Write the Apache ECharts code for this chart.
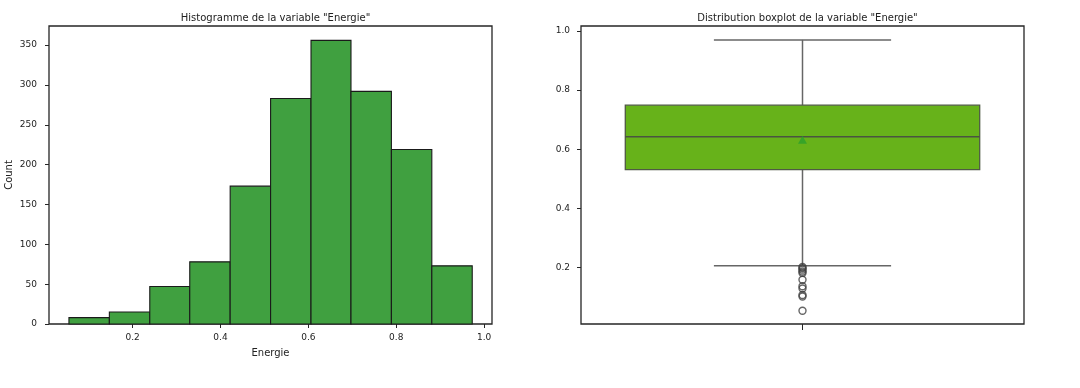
<!DOCTYPE html>
<html>
<head>
<meta charset="utf-8">
<script src="https://cdn.jsdelivr.net/npm/echarts@6/dist/echarts.min.js"></script>
<style>
html,body{margin:0;padding:0;background:#fff;}
#chart{width:1080px;height:388px;}
</style>
</head>
<body>
<div id="chart"></div>
<script>
// ---- Data ----
const histBinEdges = [0.055, 0.147, 0.239, 0.330, 0.422, 0.514, 0.606, 0.697, 0.789, 0.881, 0.973];
const histCounts = [8, 15, 47, 78, 173, 283, 356, 292, 219, 73];
const histXTicks = [0.2, 0.4, 0.6, 0.8, 1.0];
const histYTicks = [0, 50, 100, 150, 200, 250, 300, 350];

// boxplot: [lower whisker, Q1, median, Q3, upper whisker]
const boxValues = [0.205, 0.531, 0.642, 0.749, 0.970];
const meanValue = [0.632];
const outlierValues = [0.201, 0.197, 0.192, 0.186, 0.181, 0.158, 0.136, 0.128, 0.106, 0.101, 0.053];
const boxYTicks = [0.2, 0.4, 0.6, 0.8, 1.0];

const histData = histCounts.map((c, i) => [histBinEdges[i], histBinEdges[i + 1], c]);

const FONT = 'DejaVu Sans';
const TXT = '#222222';
const labelStyle = {color: TXT, fontFamily: FONT, fontSize: 9};
const noLine = {show: false, onZero: false};

const chart = echarts.init(document.getElementById('chart'), null, {renderer: 'canvas'});

const option = {
  animation: false,
  backgroundColor: '#ffffff',
  title: [
    {text: 'Histogramme de la variable "Energie"', left: 270.5, top: 8, textAlign: 'center',
     textStyle: {fontFamily: FONT, fontSize: 10, fontWeight: 'normal', color: TXT}},
    {text: 'Distribution boxplot de la variable "Energie"', left: 802.5, top: 8, textAlign: 'center',
     textStyle: {fontFamily: FONT, fontSize: 10, fontWeight: 'normal', color: TXT}}
  ],
  grid: [
    {left: 49, top: 26, width: 443, height: 298, show: true, borderColor: '#262626', borderWidth: 1.3, backgroundColor: 'transparent'},
    {left: 581, top: 26, width: 443, height: 298, show: true, borderColor: '#262626', borderWidth: 1.3, backgroundColor: 'transparent'}
  ],
  xAxis: [
    {type: 'value', gridIndex: 0, min: 0.0096, max: 1.018,
     name: 'Energie', nameLocation: 'middle', nameGap: 24,
     nameTextStyle: {fontFamily: FONT, fontSize: 10, color: TXT},
     axisLine: noLine, splitLine: {show: false},
     axisTick: {show: true, length: 4, customValues: histXTicks, lineStyle: {color: '#262626', width: 1}},
     axisLabel: {show: true, margin: 9, customValues: histXTicks, formatter: v => v.toFixed(1), ...labelStyle}},
    {type: 'value', gridIndex: 1, min: -0.5, max: 0.5,
     axisLine: noLine, splitLine: {show: false},
     axisTick: {show: true, length: 6, customValues: [0], lineStyle: {color: '#262626', width: 1}},
     axisLabel: {show: false}}
  ],
  yAxis: [
    {type: 'value', gridIndex: 0, min: 0, max: 374,
     name: 'Count', nameLocation: 'middle', nameGap: 35, nameRotate: 90,
     nameTextStyle: {fontFamily: FONT, fontSize: 10, color: TXT},
     axisLine: noLine, splitLine: {show: false},
     axisTick: {show: true, length: 4, customValues: histYTicks, lineStyle: {color: '#262626', width: 1}},
     axisLabel: {show: true, margin: 12, customValues: histYTicks, ...labelStyle}},
    {type: 'value', gridIndex: 1, min: 0.008, max: 1.017,
     axisLine: noLine, splitLine: {show: false},
     axisTick: {show: true, length: 4, customValues: boxYTicks, lineStyle: {color: '#262626', width: 1}},
     axisLabel: {show: true, margin: 11, customValues: boxYTicks, formatter: v => v.toFixed(1), ...labelStyle}}
  ],
  series: [
    {
      type: 'custom', xAxisIndex: 0, yAxisIndex: 0,
      data: histData,
      encode: {x: [0, 1], y: 2},
      renderItem: function (params, api) {
        const p0 = api.coord([api.value(0), 0]);
        const p1 = api.coord([api.value(1), api.value(2)]);
        return {
          type: 'rect',
          shape: {x: p0[0], y: p1[1], width: p1[0] - p0[0], height: p0[1] - p1[1]},
          style: {fill: '#40a040', stroke: '#1a1a1a', lineWidth: 1.1}
        };
      }
    },
    {
      type: 'custom', xAxisIndex: 1, yAxisIndex: 1,
      data: [[0].concat(boxValues)],
      encode: {x: 0, y: [1, 2, 3, 4, 5]},
      renderItem: function (params, api) {
        const x = api.value(0);
        const yLo = api.coord([x, api.value(1)])[1];
        const yQ1 = api.coord([x, api.value(2)])[1];
        const yMed = api.coord([x, api.value(3)])[1];
        const yQ3 = api.coord([x, api.value(4)])[1];
        const yHi = api.coord([x, api.value(5)])[1];
        const cx = api.coord([x, 0])[0];
        const half = api.size([0.8, 0])[0] / 2;
        const cap = api.size([0.4, 0])[0] / 2;
        const wStyle = {stroke: '#666666', lineWidth: 1.5};
        return {
          type: 'group',
          children: [
            {type: 'line', shape: {x1: cx, y1: yQ3, x2: cx, y2: yHi}, style: wStyle},
            {type: 'line', shape: {x1: cx, y1: yQ1, x2: cx, y2: yLo}, style: wStyle},
            {type: 'line', shape: {x1: cx - cap, y1: yHi, x2: cx + cap, y2: yHi}, style: wStyle},
            {type: 'line', shape: {x1: cx - cap, y1: yLo, x2: cx + cap, y2: yLo}, style: wStyle},
            {type: 'rect', shape: {x: cx - half, y: yQ3, width: 2 * half, height: yQ1 - yQ3},
             style: {fill: '#67b21a', stroke: '#4f5a44', lineWidth: 1.3}},
            {type: 'line', shape: {x1: cx - half, y1: yMed, x2: cx + half, y2: yMed},
             style: {stroke: '#4a5440', lineWidth: 1.4}}
          ]
        };
      }
    },
    {
      type: 'scatter', xAxisIndex: 1, yAxisIndex: 1,
      data: outlierValues.map(v => [0, v]),
      symbol: 'circle', symbolSize: 7,
      itemStyle: {color: 'rgba(255,255,255,0)', borderColor: '#3f3f3f', borderWidth: 1.4}
    },
    {
      type: 'scatter', xAxisIndex: 1, yAxisIndex: 1,
      data: meanValue.map(v => [0, v]),
      symbol: 'triangle', symbolSize: [9, 8],
      itemStyle: {color: '#2ca02c'}
    }
  ]
};
chart.setOption(option);
</script>
</body>
</html>
